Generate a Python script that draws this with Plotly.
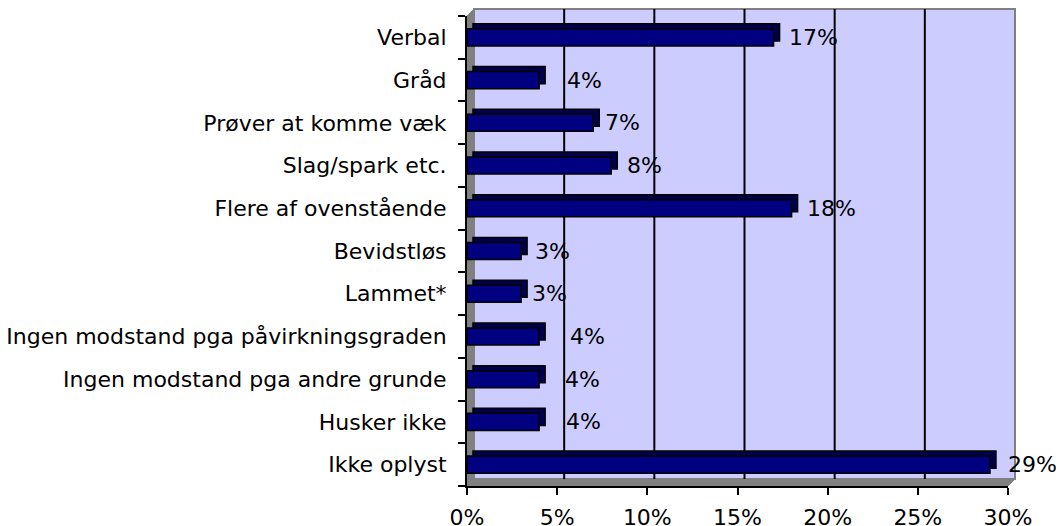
import plotly.graph_objects as go

# --- data ---
categories = ["Verbal", "Gråd", "Prøver at komme væk", "Slag/spark etc.",
              "Flere af ovenstående", "Bevidstløs", "Lammet*",
              "Ingen modstand pga påvirkningsgraden",
              "Ingen modstand pga andre grunde", "Husker ikke", "Ikke oplyst"]
values = [17, 4, 7, 8, 18, 3, 3, 4, 4, 4, 29]
value_labels = ["17%", "4%", "7%", "8%", "18%", "3%", "3%", "4%", "4%", "4%", "29%"]
x_ticks = [0, 5, 10, 15, 20, 25, 30]
x_tick_labels = ["0%", "5%", "10%", "15%", "20%", "25%", "30%"]

# --- geometry (px, page coords; the page body has an 8px margin) ---
OFF = 8
W, H = 1064 - OFF, 526 - OFF
L, R, T, B = 467 - OFF, 1008 - OFF, 16 - OFF, 486 - OFF   # front plot box
WALL = 7                              # depth of back wall offset
BAR_DX, BAR_DY = 6, 5                 # depth of the 3d bars
label_gap = [16, 29, 13, 17, 16, 15, 12, 32, 27, 28, 19]   # label offsets as in the original

FONT = "DejaVu Sans"
FS = 22
NAVY = "#000080"
DARK = "#00004A"
WALLC = "#CCCCFF"
GRAY = "#808080"

n = len(categories)
pos = [n - 1 - i for i in range(n)]
xmax = x_ticks[-1]

pw = (R + WALL) - L
ph = B - (T - WALL)
px_x = xmax / (R - L)                 # data units per px
px_y = n / (B - T)

fig = go.Figure()
# back / side faces of the bars
fig.add_trace(go.Bar(
    x=values, y=[p + BAR_DY * px_y for p in pos], base=BAR_DX * px_x,
    orientation="h", width=0.4, marker=dict(color=DARK, line=dict(color="black", width=1.5)),
    hoverinfo="skip", showlegend=False))
# front faces
fig.add_trace(go.Bar(
    x=values, y=pos, orientation="h", width=0.4,
    marker=dict(color=NAVY, line=dict(color="black", width=1.5)),
    showlegend=False))


# walls (paper coords)
def fx(x):
    return (x - L) / pw


def fy(y):
    return (B - y) / ph


shapes = [
    dict(type="rect", xref="paper", yref="paper", x0=fx(L + WALL), x1=fx(R + WALL),
         y0=fy(B - WALL), y1=fy(T - WALL), fillcolor=WALLC, line=dict(color=GRAY, width=2),
         layer="below"),
    dict(type="path", xref="paper", yref="paper",
         path=f"M {fx(L)} {fy(B)} L {fx(L)} {fy(T)} L {fx(L + WALL)} {fy(T - WALL)} "
              f"L {fx(L + WALL)} {fy(B - WALL)} Z",
         fillcolor=GRAY, line=dict(color=GRAY, width=1), layer="below"),
    dict(type="path", xref="paper", yref="paper",
         path=f"M {fx(L)} {fy(B)} L {fx(R)} {fy(B)} L {fx(R + WALL)} {fy(B - WALL)} "
              f"L {fx(L + WALL)} {fy(B - WALL)} Z",
         fillcolor=GRAY, line=dict(color=GRAY, width=1), layer="below"),
]
for t in x_ticks[1:-1]:
    shapes.append(dict(type="line", xref="x", yref="paper",
                       x0=t + WALL * px_x, x1=t + WALL * px_x,
                       y0=fy(B - WALL), y1=fy(T - WALL),
                       line=dict(color="black", width=2), layer="below"))

annotations = []
for v, p, lab, g in zip(values, pos, value_labels, label_gap):
    annotations.append(dict(x=v, y=p, text=lab, showarrow=False, xanchor="left",
                            xshift=g - 3, font=dict(family=FONT, size=FS, color="black")))

fig.update_layout(
    width=W, height=H,
    margin=dict(l=L, r=W - R - WALL, t=T - WALL, b=H - B, autoexpand=False),
    paper_bgcolor="white", plot_bgcolor="rgba(0,0,0,0)",
    font=dict(family=FONT, size=FS, color="black"),
    bargap=0.6, showlegend=False,
    shapes=shapes, annotations=annotations,
    xaxis=dict(domain=[0, (R - L) / pw], range=[0, xmax], tickvals=x_ticks,
               ticktext=x_tick_labels, ticks="outside", ticklen=7, tickwidth=2,
               tickcolor="black", showline=True, linecolor="black", linewidth=2,
               showgrid=False, zeroline=False, ticklabelstandoff=4, fixedrange=True),
    yaxis=dict(domain=[0, (B - T) / ph], range=[-0.5, n - 0.5], tickvals=pos,
               ticktext=categories, ticks="", showline=True, linecolor="black",
               linewidth=2, showgrid=False, zeroline=False, ticklabelstandoff=14,
               minor=dict(tickvals=[k - 0.5 for k in range(n + 1)], ticks="outside",
                          ticklen=7, tickwidth=2, tickcolor="black", showgrid=False),
               fixedrange=True),
)

fig.write_html("out.html")
